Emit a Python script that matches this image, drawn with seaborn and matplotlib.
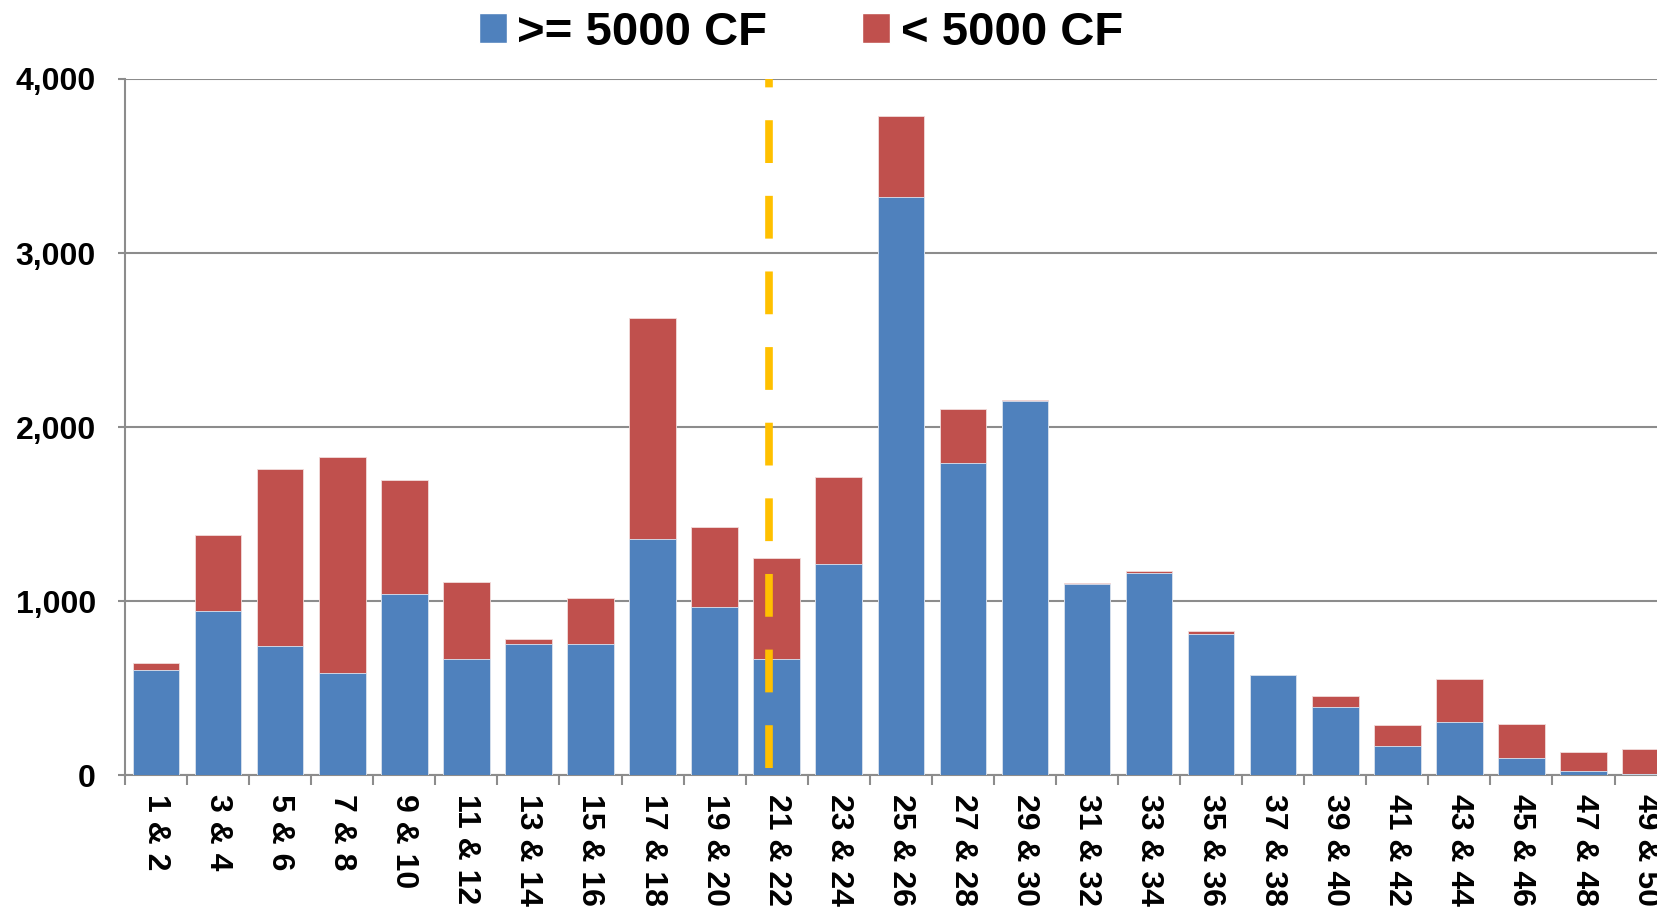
import numpy as np
import pandas as pd
import matplotlib
matplotlib.use("Agg")
import matplotlib.pyplot as plt
import matplotlib.ticker as mticker
from matplotlib.patches import Patch
import seaborn as sns

# Paired categories on the x axis
pairs = [f"{i} & {i + 1}" for i in range(1, 50, 2)]

# Bar heights
ge_5000 = [605, 940, 740, 585, 1040, 665, 755, 755, 1355, 965, 665, 1210, 3320,
           1795, 2148, 1098, 1160, 812, 572, 392, 165, 303, 96, 26, 8]
lt_5000 = [40, 437, 1017, 1240, 658, 447, 28, 262, 1270, 463, 585, 505, 465,
           310, 10, 5, 12, 18, 0, 64, 123, 247, 198, 104, 144]

marker_pair = "21 & 22"
y_ticks = [0, 1000, 2000, 3000, 4000]

BLUE = "#4F81BD"
RED = "#C0504D"
GOLD = "#FFC000"
GRID = "#8C8C8C"

df = pd.DataFrame({"pair": pairs, "ge": ge_5000, "lt": lt_5000})
df["total"] = df["ge"] + df["lt"]

sns.set_theme(style="white")
plt.rcParams["font.family"] = ["Liberation Sans", "DejaVu Sans"]
plt.rcParams["font.weight"] = "bold"
plt.rcParams["text.color"] = "black"
plt.rcParams["xtick.color"] = "black"
plt.rcParams["ytick.color"] = "black"

fig = plt.figure(figsize=(16.58, 9.07), dpi=100)
ax = fig.add_axes([0.0754, 0.1455, 1 - 0.0754, 0.7674])

# Stacked look: totals in red, lower segment in blue drawn on top
sns.barplot(data=df, x="pair", y="total", color=RED, saturation=1, width=0.75,
            edgecolor="#F2DCDB", linewidth=0.6, ax=ax, zorder=2)
sns.barplot(data=df, x="pair", y="ge", color=BLUE, saturation=1, width=0.75,
            edgecolor="#DCE6F2", linewidth=0.6, ax=ax, zorder=3)

# Dashed marker line (sits a little left of the bar centre in the original)
xi = pairs.index(marker_pair) - 0.13
ax.plot([xi, xi], [40, 4000], color=GOLD, lw=5.5, dashes=(5.6, 4.3),
        solid_capstyle="butt", dash_capstyle="butt", zorder=4, clip_on=False)

ax.set_xlim(-0.5, 24.2)
ax.set_ylim(0, 4000)
ax.set_yticks(y_ticks)
ax.yaxis.set_major_formatter(mticker.FuncFormatter(lambda v, p: f"{v:,.0f}"))
ax.yaxis.grid(True, color=GRID, lw=1.5, zorder=0)
ax.set_axisbelow(True)

ax.set_xlabel("")
ax.set_ylabel("")
ax.set_xticks(range(len(pairs)))
ax.set_xticklabels(pairs, rotation=270, ha="center", va="top")
ax.set_xticks(np.arange(-0.5, len(pairs) - 0.5, 1), minor=True)
ax.tick_params(axis="x", which="major", length=0, pad=14, labelsize=23, labelcolor="black")
ax.tick_params(axis="x", which="minor", length=7, width=1.5, color=GRID, bottom=True)
ax.tick_params(axis="y", length=5, width=1.5, color=GRID, pad=16, labelsize=23,
               left=True, labelcolor="black")

for side in ["top", "right"]:
    ax.spines[side].set_visible(False)
for side in ["left", "bottom"]:
    ax.spines[side].set_color(GRID)
    ax.spines[side].set_linewidth(1.5)

handles = [Patch(facecolor=BLUE, label=">= 5000 CF"), Patch(facecolor=RED, label="< 5000 CF")]
fig.legend(handles=handles, loc="center", bbox_to_anchor=(0.483, 0.964), ncol=2,
           frameon=False, prop={"size": 34, "weight": "bold"}, handlelength=0.6,
           handleheight=0.62, handletextpad=0.22, columnspacing=2.0,
           labelcolor="black")

fig.savefig("out.png", dpi=100)
